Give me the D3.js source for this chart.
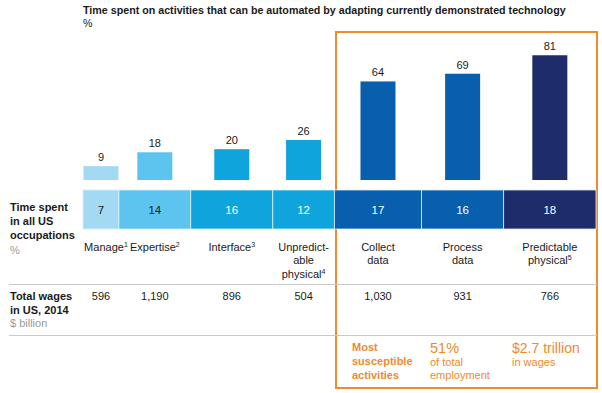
<!DOCTYPE html>
<html>
<head>
<meta charset="utf-8">
<script src="https://cdn.jsdelivr.net/npm/d3@7"></script>
<style>
  body { margin: 0; background: #fff; }
  svg { font-family: "Liberation Sans", Arial, sans-serif; }
  .title { font-weight: bold; font-size: 10.7px; fill: #1a1a1a; }
  .rowhead { font-weight: bold; font-size: 11px; fill: #1a1a1a; }
  .unit { font-size: 11px; fill: #9a9a9a; }
  .num { font-size: 11px; fill: #1a1a1a; }
  .orange { fill: #ef8a2c; }
</style>
</head>
<body>
<svg width="602" height="393"></svg>
<script>
// data
var categories = ["Manage", "Expertise", "Interface", "Unpredictable physical", "Collect data", "Process data", "Predictable physical"];
var labelLines = [["Manage"], ["Expertise"], ["Interface"], ["Unpredict-", "able", "physical"], ["Collect", "data"], ["Process", "data"], ["Predictable", "physical"]];
var footnotes = ["1", "2", "3", "4", "", "", "5"];
var automatable = [9, 18, 20, 26, 64, 69, 81];   // % of time automatable
var timeShare = [7, 14, 16, 12, 17, 16, 18];     // % of time in all US occupations
var wages = [596, 1190, 896, 504, 1030, 931, 766]; // $ billion, 2014

var colors = ["#a4d9f3", "#5cc4ef", "#0fa5dc", "#0fa5dc", "#085fad", "#085fad", "#1e2c6b"];
var darkText = ["#1a1a1a", "#1a1a1a", "#fff", "#fff", "#fff", "#fff", "#fff"];

var svg = d3.select("svg");

// stacked positions for the strip
var starts = [];
var acc = 0;
timeShare.forEach(function(v) { starts.push(acc); acc += v; });

var x = d3.scaleLinear().domain([0, 100]).range([83, 596]);
var y = d3.scaleLinear().domain([0, 100]).range([180, 26]);
var barW = 35;

function mid(i) { return x(starts[i] + timeShare[i] / 2); }

// title
svg.append("text").attr("class", "title").attr("x", 83).attr("y", 14)
  .text("Time spent on activities that can be automated by adapting currently demonstrated technology");
svg.append("text").attr("class", "title").attr("x", 83).attr("y", 27).style("font-weight", "normal").text("%");

// orange box
svg.append("rect")
  .attr("x", 336).attr("y", 32).attr("width", 261).attr("height", 356)
  .attr("fill", "none").attr("stroke", "#f08a2b").attr("stroke-width", 2);

// bars
var bars = svg.append("g").selectAll("g").data(automatable).enter().append("g");
bars.append("rect")
  .attr("x", function(d, i) { return mid(i) - barW / 2; })
  .attr("y", function(d) { return y(d); })
  .attr("width", barW)
  .attr("height", function(d) { return y(0) - y(d); })
  .attr("fill", function(d, i) { return colors[i]; });
bars.append("text").attr("class", "num")
  .attr("x", function(d, i) { return mid(i); })
  .attr("y", function(d) { return y(d) - 5; })
  .attr("text-anchor", "middle")
  .text(function(d) { return d; });

// strip of time share
var strip = svg.append("g").selectAll("g").data(timeShare).enter().append("g");
strip.append("rect")
  .attr("x", function(d, i) { return x(starts[i]); })
  .attr("y", 190)
  .attr("width", function(d) { return x(d) - x(0); })
  .attr("height", 39)
  .attr("fill", function(d, i) { return colors[i]; })
  .attr("stroke", "#d8f1fb").attr("stroke-width", 0.8);
strip.append("text")
  .attr("x", function(d, i) { return mid(i); })
  .attr("y", 214)
  .attr("text-anchor", "middle")
  .style("font-size", "11.5px")
  .attr("fill", function(d, i) { return darkText[i]; })
  .text(function(d) { return d; });

// category labels
var cat = svg.append("g").selectAll("text").data(categories).enter().append("text")
  .attr("class", "num")
  .attr("text-anchor", "middle")
  .attr("x", function(d, i) { return mid(i); })
  .attr("y", 251);
cat.each(function(d, i) {
  var t = d3.select(this);
  labelLines[i].forEach(function(line, k) {
    t.append("tspan").attr("x", mid(i) + (i == 0 ? 5 : 0)).attr("dy", k == 0 ? 0 : 13.3).text(line);
  });
  if (footnotes[i]) {
    t.append("tspan").attr("dy", -4).style("font-size", "7px").text(footnotes[i]);
  }
});

// left row heads
var head1 = svg.append("text").attr("class", "rowhead").attr("x", 10).attr("y", 211);
["Time spent", "in all US", "occupations"].forEach(function(s, k) {
  head1.append("tspan").attr("x", 10).attr("dy", k == 0 ? 0 : 14).text(s);
});
svg.append("text").attr("class", "unit").attr("x", 10).attr("y", 254).text("%");

// rules
[284.5, 335.5].forEach(function(yy) {
  svg.append("line").attr("x1", 9).attr("x2", 597).attr("y1", yy).attr("y2", yy)
    .attr("stroke", "#c9c9c9").attr("stroke-width", 1);
});

// wages row
var head2 = svg.append("text").attr("class", "rowhead").attr("x", 10).attr("y", 300);
["Total wages", "in US, 2014"].forEach(function(s, k) {
  head2.append("tspan").attr("x", 10).attr("dy", k == 0 ? 0 : 14).text(s);
});
svg.append("text").attr("class", "unit").attr("x", 10).attr("y", 327).text("$ billion");

svg.append("g").selectAll("text").data(wages).enter().append("text")
  .attr("class", "num")
  .attr("text-anchor", "middle")
  .attr("x", function(d, i) { return mid(i); })
  .attr("y", 300)
  .text(d3.format(","));

// orange callouts
var c1 = svg.append("text").attr("class", "orange").attr("x", 352).attr("y", 351)
  .style("font-weight", "bold").style("font-size", "11px");
["Most", "susceptible", "activities"].forEach(function(s, k) {
  c1.append("tspan").attr("x", 352).attr("dy", k == 0 ? 0 : 14).text(s);
});
svg.append("text").attr("class", "orange").attr("x", 430).attr("y", 353).style("font-size", "14.5px").text("51%");
var c2 = svg.append("text").attr("class", "orange").attr("x", 430).attr("y", 366).style("font-size", "11px");
["of total", "employment"].forEach(function(s, k) {
  c2.append("tspan").attr("x", 430).attr("dy", k == 0 ? 0 : 13).text(s);
});
svg.append("text").attr("class", "orange").attr("x", 512).attr("y", 353).style("font-size", "14px").text("$2.7 trillion");
svg.append("text").attr("class", "orange").attr("x", 512).attr("y", 366).style("font-size", "11px").text("in wages");
</script>
</body>
</html>
